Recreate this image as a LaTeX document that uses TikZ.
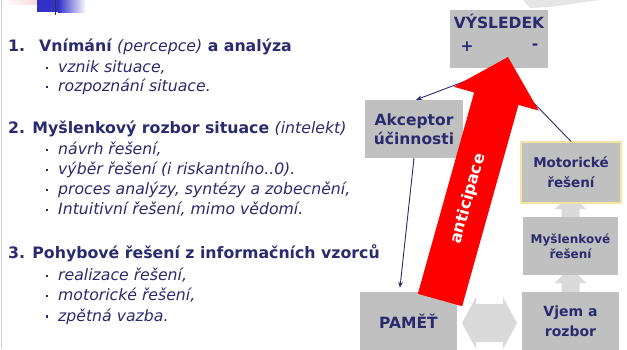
\documentclass[tikz,border=0pt]{standalone}
\usepackage{fontspec}
\setmainfont{DejaVu Sans}
\usetikzlibrary{calc,arrows.meta}
\definecolor{navy}{RGB}{42,42,110}
\definecolor{boxgray}{RGB}{192,192,192}
\definecolor{lightarrow}{RGB}{218,218,218}
\definecolor{ylw}{RGB}{245,228,160}
\definecolor{decoblue}{RGB}{50,50,200}
\definecolor{decopink}{RGB}{250,200,200}
\tikzset{
  head/.style={anchor=base west, text=navy, inner sep=0pt, font=\fontsize{15.75}{19}\selectfont\bfseries},
  itemtext/.style={anchor=base west, text=navy, inner sep=0pt, font=\fontsize{15.7}{19}\selectfont\itshape},
  bulletsq/.style={fill=navy, minimum size=2.6pt, inner sep=0pt},
  box/.style={fill=boxgray, draw=none, text=navy, align=center, inner sep=0pt, font=\fontsize{15.5}{19}\selectfont\bfseries},
  btext/.style={text=navy, inner sep=0pt, font=\fontsize{15.5}{19}\selectfont\bfseries},
  thinline/.style={draw=navy, line width=0.9pt},
  tip/.style={-{Stealth[length=6pt,width=4.5pt]}},
  grayarrow/.style={fill=lightarrow, draw=none}
}
\begin{document}
\begin{tikzpicture}[x=1pt,y=-1pt]
\useasboundingbox (0,0) rectangle (627,349);
\clip (0,0) rectangle (627,349);
% left border and decorations
\draw[color=black!18, line width=1pt] (1,0) -- (1,349);
\shade[left color=white, right color=decopink] (4,0) rectangle (50,4);
\fill[decoblue] (37,0) rectangle (58,12);
\shade[left color=decoblue, right color=white] (58,0) rectangle (86,12);
\draw[color=black!80, line width=1pt] (55,0) -- (55,15);
\fill[black!10] (523,0) -- (600,0) -- (550,7) -- (530,8) -- cycle;

% left text
\node[head] (n1) at (8,51.5) {1.};
\node[head] (h1) at (39,51.5) {Vnímání \mdseries\itshape(percepce)\upshape\bfseries{} a analýza};
\node[head] (h2) at (8,133) {2. Myšlenkový rozbor situace \mdseries\itshape(intelekt)};
\node[head] (h3) at (8,258.5) {3. Pohybové řešení z informačních vzorců};
\foreach \y/\t [count=\i] in {72.5/{vznik situace,}, 91.5/{rozpoznání situace.},
   154.5/{návrh řešení,}, 174.5/{výběr řešení (i riskantního..0).}, 194.5/{proces analýzy, syntézy a zobecnění,}, 214.5/{Intuitivní řešení, mimo vědomí.},
   280.5/{realizace řešení,}, 300.5/{motorické řešení,}, 321/{zpětná vazba.}}{
  \node[bulletsq] (b\i) at (47,\y-4.5) {};
  \node[itemtext] (it\i) at (58,\y) {\t};
}

% gray block arrows (under boxes)
\coordinate (va) at (570.5,292);
\fill[lightarrow] ($(va)+(-9,0)$) -- ($(va)+(-9,-9)$) -- ($(va)+(-16,-9)$) -- ($(va)+(0,-24)$) -- ($(va)+(16,-9)$) -- ($(va)+(9,-9)$) -- ($(va)+(9,0)$) -- cycle;
\coordinate (ma) at (570.5,217);
\fill[lightarrow] ($(ma)+(-9,0)$) -- ($(ma)+(-9,-8)$) -- ($(ma)+(-16,-8)$) -- ($(ma)+(0,-22)$) -- ($(ma)+(16,-8)$) -- ($(ma)+(9,-8)$) -- ($(ma)+(9,0)$) -- cycle;
\fill[lightarrow] (462,323) -- (476,297) -- (476,304) -- (503,304) -- (503,297) -- (517,323) -- (503,349) -- (503,342) -- (476,342) -- (476,349) -- cycle;

% boxes
\node[box, minimum width=98pt, minimum height=58pt] (vys) at (499,39) {};
\node[btext] (vyst) at (499,21) {VÝSLEDEK};
\node[btext] (plus) at (467,47) {+};
\node[btext] (minus) at (535,47) {-};
\node[box, minimum width=98pt, minimum height=58pt] (akc) at (414,129) {Akceptor\\účinnosti};
\node[box, draw=ylw, line width=1.2pt, minimum width=100pt, minimum height=61pt, font=\fontsize{13.5}{20}\selectfont\bfseries] (mot) at (571,172.5) {Motorické\\řešení};
\node[box, minimum width=95pt, minimum height=58pt, font=\fontsize{12}{15}\selectfont\bfseries] (mys) at (570.5,246) {Myšlenkové\\řešení};
\node[box, minimum width=97pt, minimum height=58pt, font=\fontsize{14}{20}\selectfont\bfseries] (vjem) at (570.5,321) {Vjem a\\rozbor};
\node[box, minimum width=97pt, minimum height=58pt] (pam) at (408.5,321) {PAMĚŤ};

% thin connectors
\coordinate (vb) at (500,68);
\draw[thinline, tip] (vb) -- ([xshift=2pt]akc.north);
\draw[thinline] (mot.north) -- (vb);
\draw[thinline, tip, shorten >=4pt] (akc.south) -- ([xshift=-9pt]pam.north);

% red arrow
\fill[red] (417.85,293.8) -- (474.15,92.5) -- (453.9,86.8) -- (508,57) -- (538.7,110.6) -- (518.45,104.9) -- (462.15,306.2) -- cycle;
\node[text=white, inner sep=0pt, rotate=74.37, font=\fontsize{16}{19}\selectfont\bfseries] (ant) at (468.3,199) {anticipace};
\end{tikzpicture}
\end{document}
